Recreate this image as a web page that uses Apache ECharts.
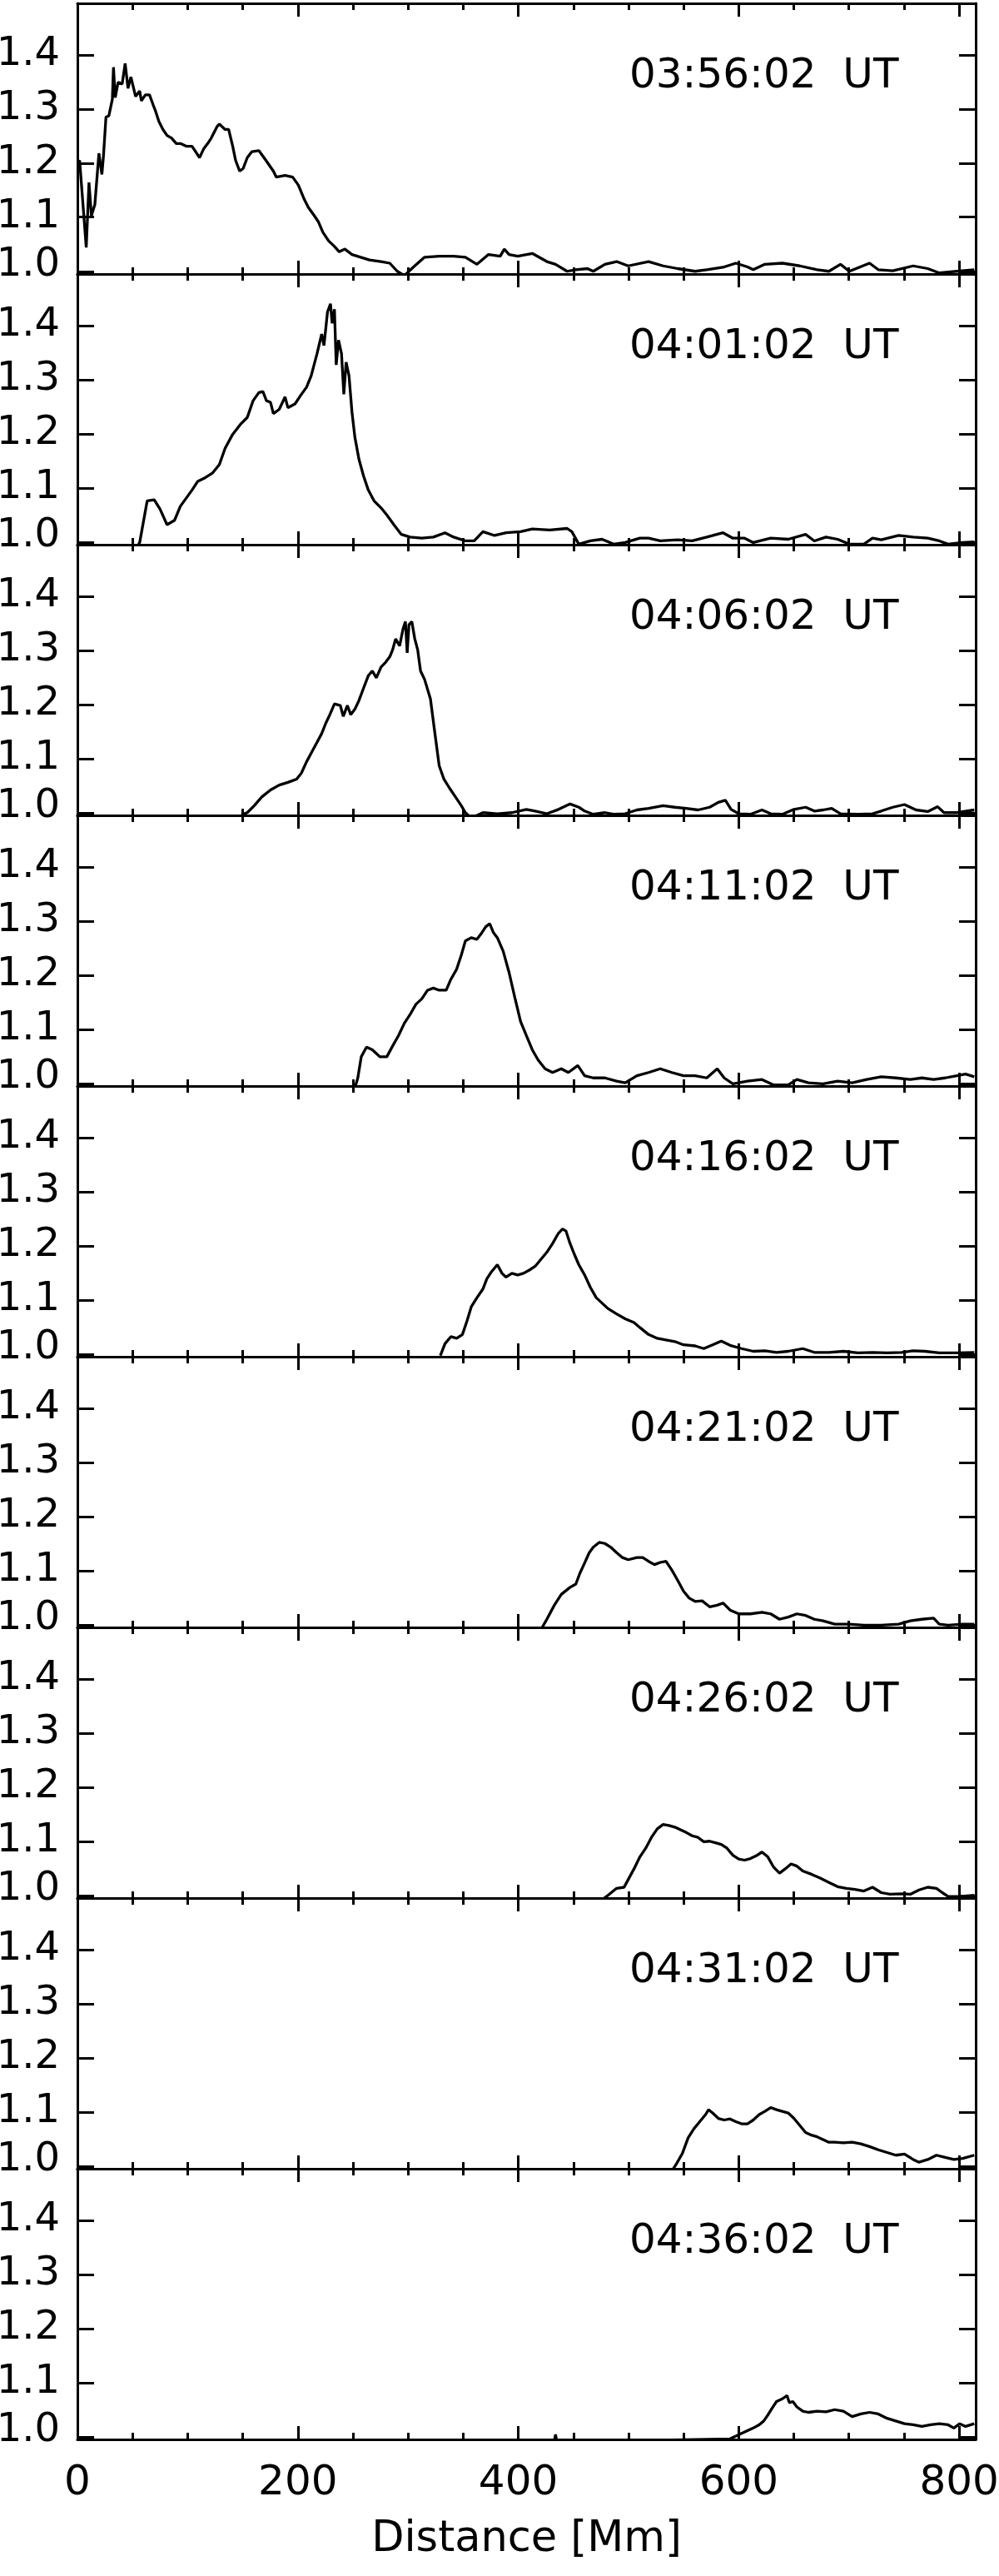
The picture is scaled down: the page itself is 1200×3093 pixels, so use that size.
<!DOCTYPE html>
<html><head><meta charset="utf-8">
<script src="https://cdn.jsdelivr.net/npm/echarts@6/dist/echarts.min.js"></script>
<style>html,body{margin:0;padding:0;background:#fff}#c{width:1200px;height:3093px}</style>
</head><body><div id="c"></div>
<script>
const times = ['03:56:02  UT','04:01:02  UT','04:06:02  UT','04:11:02  UT','04:16:02  UT','04:21:02  UT','04:26:02  UT','04:31:02  UT','04:36:02  UT'];
const yTicks = [1.0, 1.1, 1.2, 1.3, 1.4];
const xTicks = [0, 200, 400, 600, 800];
const xTitle = 'Distance [Mm]';

const prof0356 = [[0,1.200],[2,1.205],[8,1.044],[10.5,1.164],[12.7,1.103],[15.8,1.123],[19.5,1.218],[22.2,1.179],[23.7,1.215],[25.9,1.285],[28.5,1.287],[31.7,1.318],[32.7,1.377],[34.3,1.321],[36.9,1.349],[40.6,1.346],[43.3,1.384],[45.9,1.338],[48.5,1.359],[52.8,1.323],[56.5,1.333],[58,1.315],[61.7,1.326],[65.4,1.326],[68.6,1.308],[70.7,1.297],[73.9,1.277],[77.6,1.262],[81.3,1.251],[85.5,1.246],[89.7,1.236],[93.4,1.236],[98.7,1.231],[104,1.231],[110.8,1.210],[114.5,1.226],[118.2,1.236],[121.4,1.246],[126.6,1.267],[128.8,1.272],[134,1.262],[137.2,1.262],[140.9,1.231],[143.5,1.205],[147.2,1.185],[150.4,1.190],[154.1,1.210],[158.3,1.221],[164.6,1.223],[171,1.205],[177.8,1.185],[180.5,1.174],[188.4,1.177],[195.3,1.174],[200.5,1.159],[205.8,1.133],[209.5,1.118],[214.8,1.103],[218.5,1.092],[222.7,1.072],[228,1.056],[233.2,1.046],[237.5,1.036],[242.7,1.041],[249.1,1.031],[257,1.026],[264.9,1.021],[275.5,1.018],[283.4,1.015],[290.2,1.000],[296.6,0.992],[306,1.010],[315,1.026],[328.2,1.028],[341.4,1.028],[352,1.026],[362.5,1.013],[373,1.031],[383.6,1.028],[387.3,1.041],[391.6,1.031],[399.5,1.028],[412.7,1.033],[425.9,1.018],[433.8,1.013],[444.3,1.000],[452.2,1.003],[462.8,1.005],[468,1.000],[478.6,1.013],[489.2,1.018],[499.7,1.010],[518.2,1.018],[531.4,1.010],[544.6,1.005],[560.4,1.000],[571,1.003],[586.8,1.008],[597.4,1.015],[608,1.008],[613.2,1.003],[623.7,1.013],[639.6,1.015],[655.4,1.010],[671.2,1.003],[681.8,1.000],[692.3,1.013],[700.3,1.000],[718.7,1.015],[726.6,1.003],[739.8,1.001],[758.3,1.010],[771.5,1.005],[782,0.997],[797.9,1.000],[813.7,1.003]];

const prof0401 = [[53.8,0.990],[56.5,0.999],[63.3,1.076],[69.7,1.078],[74.9,1.061],[81.3,1.032],[88.1,1.040],[93.4,1.066],[98.7,1.081],[104,1.096],[109.2,1.112],[116.1,1.119],[122.4,1.127],[128.8,1.143],[134,1.173],[140.9,1.199],[147.8,1.217],[154.1,1.230],[159.4,1.261],[164.6,1.276],[168.3,1.278],[171.5,1.261],[175.2,1.258],[177.8,1.237],[183.1,1.245],[188.4,1.268],[191,1.248],[197.4,1.255],[202.6,1.271],[207.9,1.286],[212.1,1.307],[217.4,1.348],[221.6,1.384],[223.7,1.363],[226.9,1.425],[229.6,1.440],[231.1,1.404],[233.2,1.430],[234.8,1.327],[236.9,1.373],[239.6,1.348],[241.7,1.273],[243.8,1.332],[246.4,1.307],[249.1,1.240],[251.7,1.194],[255.4,1.153],[259.6,1.122],[263.9,1.096],[269.1,1.076],[275.5,1.063],[280.7,1.050],[287.1,1.032],[293.9,1.014],[301.8,1.009],[312.4,1.007],[322.9,1.009],[333.5,1.017],[341.4,1.009],[352,1.002],[360,1.002],[367.9,1.019],[378.5,1.012],[389,1.017],[402.1,1.019],[412.7,1.024],[428.5,1.022],[444.3,1.025],[448.6,1.019],[454.9,0.996],[465.4,1.002],[476,1.005],[486.5,0.996],[497,0.999],[510.3,1.007],[518.2,1.007],[528.8,1.002],[544.6,1.004],[557.8,1.002],[571,1.009],[585.8,1.017],[594.7,1.007],[605.3,1.007],[613.2,0.999],[629,1.007],[644.9,1.005],[660.7,1.014],[668.6,1.002],[679.2,1.009],[689.7,1.005],[700.3,0.996],[713.5,0.996],[721.4,1.007],[729.3,1.004],[745.1,1.012],[758.3,1.009],[771.5,1.007],[782,1.002],[789.9,0.996],[803.2,0.999],[813.7,1.000]];

const prof0406 = [[148.8,0.996],[154.1,1.000],[160.4,1.013],[167.3,1.029],[175.2,1.042],[183.1,1.051],[191,1.056],[198.9,1.062],[203.2,1.073],[207.9,1.094],[212.1,1.110],[217.4,1.130],[221.6,1.146],[225.3,1.165],[229,1.181],[233.2,1.201],[238.5,1.198],[241.2,1.178],[244.9,1.198],[248,1.181],[251.7,1.191],[255.4,1.207],[259.6,1.230],[263.9,1.253],[267.6,1.262],[271.2,1.249],[275.5,1.269],[279.7,1.278],[283.4,1.288],[286,1.301],[288.7,1.321],[292.3,1.308],[295.5,1.340],[297.6,1.353],[299.2,1.295],[300.8,1.347],[303.4,1.353],[306.1,1.321],[308.7,1.301],[311.3,1.262],[315,1.246],[320.3,1.210],[324,1.152],[328.2,1.087],[332.5,1.062],[337.7,1.045],[343,1.029],[348.3,1.013],[352,1.000],[357.3,0.990],[367.9,1.000],[381,0.998],[394.2,1.000],[407.4,1.006],[415.3,1.003],[426,0.998],[436.5,1.006],[447,1.016],[455,1.010],[460.2,1.003],[468,0.997],[478.6,1.000],[486.5,0.997],[497,0.998],[507.6,1.005],[518.2,1.008],[531.4,1.013],[542,1.010],[552.5,1.008],[563.1,1.005],[573.6,1.010],[581.5,1.019],[587.9,1.023],[593.1,1.006],[600,0.998],[610.6,0.997],[621.1,1.005],[629,0.998],[639.6,0.997],[650.1,1.006],[660.7,1.010],[668.6,1.003],[676.5,1.005],[684.4,1.008],[692.3,0.998],[708.2,0.997],[721.4,0.998],[729.3,1.003],[739.8,1.010],[750.4,1.015],[760.9,1.005],[771.5,1.002],[780.5,1.011],[786.3,1.000],[797.9,1.000],[813.7,1.005]];

const prof0411 = [[251.7,0.991],[254.4,1.010],[257.5,1.049],[262.3,1.067],[267.6,1.062],[274.4,1.049],[280.7,1.049],[286,1.069],[291.3,1.088],[296.6,1.111],[301.8,1.127],[307.1,1.146],[312.4,1.156],[317.7,1.172],[322.9,1.176],[328.2,1.172],[334.6,1.172],[338.8,1.192],[344.1,1.211],[348.3,1.237],[352,1.263],[357.3,1.269],[362.5,1.266],[366.2,1.276],[370.4,1.289],[374.1,1.295],[377.3,1.279],[381,1.269],[386.3,1.244],[391.6,1.205],[396.8,1.159],[402.1,1.114],[407.4,1.088],[412.7,1.062],[418,1.043],[424.3,1.027],[431.1,1.020],[439,1.027],[445.4,1.020],[454,1.033],[460.2,1.014],[468,1.010],[478.6,1.010],[489.2,1.004],[497,1.001],[507.6,1.014],[518.2,1.020],[528.8,1.027],[539.3,1.020],[549.9,1.014],[560.4,1.014],[571,1.010],[580.5,1.027],[586.8,1.010],[594.7,0.999],[607.9,1.004],[621.1,1.007],[631.7,0.997],[644.9,0.997],[652.8,1.007],[663.3,1.001],[676.5,0.999],[689.7,1.004],[702.9,1.001],[716.1,1.007],[729.3,1.012],[742.5,1.010],[755.7,1.007],[766.2,1.010],[776.8,1.007],[787.3,1.010],[797.9,1.014],[805.8,1.017],[813.7,1.012]];

const prof0416 = [[329.3,0.997],[333.5,1.019],[338.8,1.032],[344.1,1.029],[349.3,1.036],[353.6,1.062],[357.3,1.087],[362.5,1.104],[367.9,1.120],[371.5,1.139],[375.7,1.152],[381,1.165],[385.2,1.149],[388.9,1.142],[394.2,1.149],[399.5,1.146],[404.7,1.149],[410,1.155],[415.3,1.162],[420.6,1.175],[425.9,1.188],[431.1,1.204],[436.4,1.223],[440.1,1.231],[443.3,1.227],[447,1.204],[450.7,1.185],[454.9,1.165],[460.2,1.146],[465.4,1.123],[470.7,1.104],[476,1.094],[481.3,1.084],[489.2,1.074],[497,1.065],[505,1.058],[510.3,1.049],[518.2,1.036],[526.1,1.029],[534,1.026],[542,1.023],[549.9,1.017],[560.4,1.015],[568.3,1.010],[576.3,1.017],[584.2,1.024],[592.1,1.016],[602.6,1.010],[613.2,1.005],[623.7,1.006],[634.3,1.003],[644.9,1.005],[658.1,1.010],[668.6,1.003],[681.8,1.003],[695,1.005],[708.2,1.002],[721.4,1.003],[734.6,1.002],[747.8,1.003],[758.3,1.006],[768.9,1.005],[782,1.002],[797.9,1.002],[813.7,1.003]];

const prof0421 = [[420.6,0.991],[425.9,1.010],[432.7,1.036],[439,1.056],[447,1.069],[452.2,1.075],[455.9,1.095],[460.2,1.114],[464.4,1.133],[468,1.143],[473.4,1.152],[478.6,1.150],[483.9,1.143],[489.2,1.133],[494.5,1.124],[499.7,1.120],[507.6,1.124],[512.9,1.124],[518.2,1.117],[523.5,1.111],[528.8,1.115],[534,1.117],[539.3,1.101],[544.6,1.082],[549.9,1.062],[555.1,1.049],[560.4,1.043],[566.8,1.044],[573.6,1.033],[580.5,1.036],[585.8,1.040],[592.1,1.027],[600,1.020],[610.6,1.020],[621.1,1.023],[629,1.020],[637,1.010],[644.9,1.014],[652.8,1.020],[660.7,1.017],[668.6,1.010],[676.5,1.007],[687.1,1.001],[700.3,1.001],[713.5,0.999],[729.3,0.999],[745.1,1.001],[755.7,1.007],[766.2,1.010],[776.8,1.012],[782,1.001],[789.9,0.999],[803.2,1.001],[813.7,1.001]];

const prof0426 = [[478,0.995],[481.3,1.000],[489.2,1.013],[496,1.015],[499.7,1.029],[505,1.049],[510.3,1.071],[515.6,1.087],[520.8,1.107],[526.1,1.123],[531.4,1.131],[536.7,1.129],[542,1.126],[547.2,1.121],[552.5,1.116],[557.8,1.110],[563.1,1.107],[568.3,1.099],[573.6,1.100],[578.9,1.097],[584.2,1.094],[589.4,1.087],[594.7,1.074],[600,1.067],[605.3,1.065],[610.6,1.068],[615.8,1.073],[621.1,1.080],[626.4,1.071],[631.7,1.052],[637,1.041],[642.2,1.049],[647.5,1.058],[652.8,1.054],[658.1,1.045],[666,1.039],[673.9,1.032],[681.8,1.024],[689.7,1.016],[697.6,1.013],[705.5,1.011],[713.5,1.008],[721.4,1.015],[729.3,1.005],[737.2,1.002],[747.8,1.003],[755.7,1.002],[763.6,1.010],[771.5,1.015],[779.4,1.013],[784.7,1.005],[790,0.998],[800.5,0.998],[813.7,1.000]];

const prof0431 = [[539.3,0.991],[543.5,1.004],[548.8,1.023],[554.1,1.052],[559.4,1.069],[564.6,1.082],[569.9,1.095],[572.6,1.104],[576.3,1.098],[581.5,1.088],[586.8,1.085],[592.1,1.087],[597.4,1.082],[602.6,1.078],[607.9,1.078],[613.2,1.085],[618.5,1.095],[623.7,1.101],[629,1.108],[634.3,1.104],[639.6,1.101],[644.9,1.098],[650.1,1.088],[655.4,1.075],[660.7,1.062],[666,1.057],[671.2,1.054],[676.5,1.049],[681.8,1.044],[687.1,1.044],[695,1.043],[702.9,1.044],[710.8,1.041],[718.7,1.036],[726.6,1.030],[734.6,1.025],[742.5,1.020],[750.4,1.022],[758.3,1.012],[763.6,1.007],[771.5,1.012],[779.4,1.020],[787.3,1.016],[795.2,1.012],[803.2,1.014],[813.7,1.020]];

const prof0436 = [[432.5,0.990],[433.8,1.004],[435,0.990],[592.1,0.996],[597.4,1.001],[602.6,1.006],[607.9,1.011],[613.2,1.016],[618.5,1.022],[622.7,1.029],[626.4,1.040],[630.1,1.052],[634.3,1.065],[639.6,1.070],[643.8,1.076],[645.9,1.063],[649.1,1.065],[652.8,1.055],[658.1,1.047],[663.3,1.045],[671.2,1.047],[679.2,1.046],[687.1,1.050],[695,1.047],[702.9,1.037],[710.8,1.042],[718.7,1.045],[726.6,1.042],[734.6,1.034],[742.5,1.029],[750.4,1.024],[758.3,1.022],[766.2,1.019],[774.1,1.022],[782,1.024],[790,1.022],[795.2,1.016],[800.5,1.024],[805.8,1.019],[813.7,1.024]];

const profiles = [prof0356, prof0401, prof0406, prof0411, prof0416, prof0421, prof0426, prof0431, prof0436];

const FONT = 'DejaVu Sans';
const L = 93, W = 1079, T0 = 4, H = 325;
const grids = [], xAxes = [], yAxes = [], series = [], graphics = [];
const black = '#000';
const labStyle = {fontFamily: FONT, fontSize: 48, color: black};

profiles.forEach((data, i) => {
  const last = i === profiles.length - 1;
  grids.push({left: L, top: T0 + i * H, width: W, height: H, containLabel: false, outerBoundsMode: 'none'});
  const axisLine = {show: true, onZero: false, lineStyle: {color: black, width: 3}};
  const xBase = {
    type: 'value', gridIndex: i, min: 0, max: 815, interval: 200,
    axisLine: axisLine, splitLine: {show: false}, minorSplitLine: {show: false},
    axisTick: {show: true, inside: true, length: 16, lineStyle: {color: black, width: 3}},
    minorTick: {show: true, splitNumber: 4, length: 8, lineStyle: {color: black, width: 3}}
  };
  xAxes.push(Object.assign({}, xBase, {
    position: 'bottom',
    axisLabel: last ? {show: true, customValues: xTicks, fontFamily: FONT, fontSize: 50, color: black, margin: 28, formatter: v => String(v)} : {show: false},
    name: last ? xTitle : '', nameLocation: 'middle', nameGap: 95,
    nameTextStyle: {fontFamily: FONT, fontSize: 51, color: black}
  }));
  xAxes.push(Object.assign({}, xBase, {position: 'top', axisLabel: {show: false}}));
  const yBase = {
    type: 'value', gridIndex: i, min: 0.995, max: 1.495,
    axisLine: axisLine, splitLine: {show: false},
    axisTick: {show: true, inside: true, length: 20, customValues: yTicks, lineStyle: {color: black, width: 3}}
  };
  yAxes.push(Object.assign({}, yBase, {
    position: 'left',
    axisLabel: {
      show: true, customValues: yTicks, fontFamily: FONT, fontSize: 48, color: black, margin: 21,
      formatter: v => (Math.abs(v - 1) < 1e-9 ? '{lo|' : '{n|') + v.toFixed(1) + '}',
      rich: {
        lo: Object.assign({padding: [0, 0, 14, 0]}, labStyle),
        n: Object.assign({}, labStyle)
      }
    }
  }));
  yAxes.push(Object.assign({}, yBase, {position: 'right', axisLabel: {show: false}}));
  series.push({
    type: 'line', xAxisIndex: 2 * i, yAxisIndex: 2 * i, data: data,
    showSymbol: false, symbol: 'none', clip: true, animation: false,
    lineStyle: {color: black, width: 3.3}
  });
  graphics.push({
    type: 'text', x: 756, y: T0 + i * H + 88, silent: true,
    style: {text: times[i], fontFamily: FONT, fontSize: 50, fill: black, align: 'left', verticalAlign: 'middle'}
  });
});

const chart = echarts.init(document.getElementById('c'), null, {renderer: 'canvas'});
chart.setOption({
  animation: false,
  backgroundColor: '#fff',
  grid: grids, xAxis: xAxes, yAxis: yAxes, series: series,
  graphic: graphics
});
</script></body></html>
